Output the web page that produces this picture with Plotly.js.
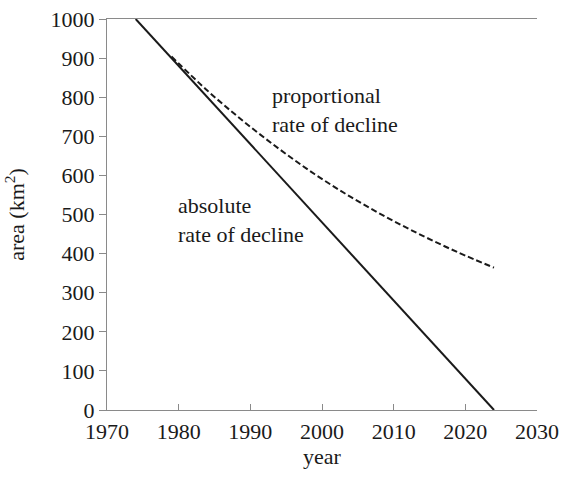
<!DOCTYPE html>
<html>
<head>
<meta charset="utf-8">
<script src="https://cdn.plot.ly/plotly-3.0.1.min.js"></script>
<style>html,body{margin:0;padding:0;background:#fff;}#chart{width:563px;height:477px;}</style>
</head>
<body>
<div id="chart"></div>
<script>
// Absolute (linear) decline
const absYears = [1974, 2024];
const absArea = [1000, 0];
// Proportional decline
const propYears = [1979, 1984, 1989, 1994, 1999, 2004, 2009, 2014, 2019, 2024];
const propArea = [904, 817, 739, 668, 603, 545, 493, 446, 403, 364];
// Axis ticks
const xTicks = [1970, 1980, 1990, 2000, 2010, 2020, 2030];
const yTicks = [0, 100, 200, 300, 400, 500, 600, 700, 800, 900, 1000];

const font = {family: 'Liberation Serif, Times New Roman, serif', size: 22, color: '#1a1a1a'};

const traces = [
  {x: absYears, y: absArea, mode: 'lines', line: {color: '#1a1a1a', width: 2}, hoverinfo: 'skip'},
  {x: propYears, y: propArea, mode: 'lines', line: {color: '#1a1a1a', width: 2, dash: '6px,3px', shape: 'spline'}, hoverinfo: 'skip'}
];

const layout = {
  width: 563, height: 477,
  margin: {l: 107, r: 26, t: 19, b: 67},
  paper_bgcolor: '#fff', plot_bgcolor: '#fff',
  showlegend: false,
  font: font,
  xaxis: {
    range: [1970, 2030], tickvals: xTicks, ticktext: xTicks.map(String),
    showgrid: false, zeroline: false,
    showline: true, linecolor: '#8a8a8a', linewidth: 1, mirror: true,
    ticks: 'inside', ticklen: 6, tickcolor: '#8a8a8a',
    tickfont: font, ticklabelstandoff: 2,
    title: {text: 'year', font: font, standoff: 0}
  },
  yaxis: {
    range: [0, 1000], tickvals: yTicks, ticktext: yTicks.map(String),
    showgrid: false, zeroline: false,
    showline: true, linecolor: '#8a8a8a', linewidth: 1,
    ticks: 'outside', ticklen: 7, tickcolor: '#8a8a8a',
    tickfont: font,
    title: {text: 'area (km<sup>2</sup>)', font: font, standoff: 19}
  },
  annotations: [
    {x: 1992.7, y: 767, xref: 'x', yref: 'y', xanchor: 'left', yanchor: 'middle', align: 'left',
     text: 'proportional<br>rate of decline', showarrow: false, font: font},
    {x: 1979.6, y: 486, xref: 'x', yref: 'y', xanchor: 'left', yanchor: 'middle', align: 'left',
     text: 'absolute<br>rate of decline', showarrow: false, font: font}
  ]
};

Plotly.newPlot('chart', traces, layout, {staticPlot: true, displayModeBar: false});
</script>
</body>
</html>
